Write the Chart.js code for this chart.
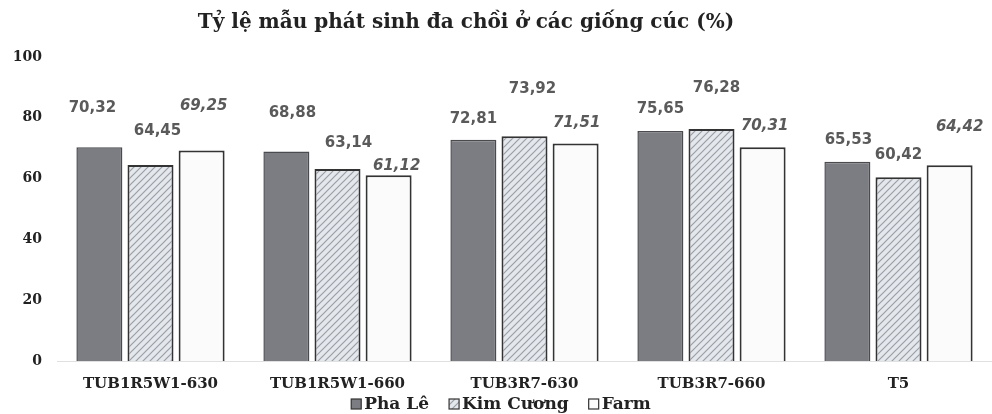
<!DOCTYPE html>
<html>
<head>
<meta charset="utf-8">
<script src="https://cdn.jsdelivr.net/npm/chart.js@4.4.1/dist/chart.umd.min.js"></script>
<style>
  html, body { margin: 0; padding: 0; background: #fff; }
  #wrap { width: 992px; height: 414px; }
</style>
</head>
<body>
<div id="wrap"><canvas id="chart"></canvas></div>
<script>
const categories = ["TUB1R5W1-630", "TUB1R5W1-660", "TUB3R7-630", "TUB3R7-660", "T5"];
const phaLe = [70.32, 68.88, 72.81, 75.65, 65.53];
const kimCuong = [64.45, 63.14, 73.92, 76.28, 60.42];
const farm = [69.25, 61.12, 71.51, 70.31, 64.42];
const yTicks = [0, 20, 40, 60, 80, 100];

// where each value label sits relative to the top of its bar: [dx, rise]
const labelShift = [
  [[-7, 39], [6, 38], [0, 21], [0, 22], [1, 22]],
  [[7, 34], [11, 26], [8, 47], [5, 41], [0, 22]],
  [[2, 44], [8, 9], [1, 21], [2, 21], [10, 38]]
];

const SERIF = "'DejaVu Serif', serif";
const SANS = "'DejaVu Sans', sans-serif";

// diagonal hatch for Kim Cương
function makeHatch() {
  const c = document.createElement("canvas");
  c.width = 7; c.height = 7;
  const g = c.getContext("2d");
  g.fillStyle = "#e4e7ec";
  g.fillRect(0, 0, 7, 7);
  g.strokeStyle = "#9a9ea6";
  g.lineWidth = 1.2;
  g.beginPath();
  g.moveTo(0, 7); g.lineTo(7, 0);
  g.moveTo(-1, 1); g.lineTo(1, -1);
  g.moveTo(6, 8); g.lineTo(8, 6);
  g.stroke();
  return g.createPattern(c, "repeat");
}
const hatch = makeHatch();

const fmt = v => v.toFixed(2).replace(".", ",");

const extras = {
  id: "extras",
  afterDatasetsDraw(chart) {
    const ctx = chart.ctx;
    ctx.save();
    ctx.textAlign = "center";
    ctx.textBaseline = "middle";
    ctx.fillStyle = "#5a5a5a";
    chart.data.datasets.forEach((ds, i) => {
      ctx.font = (i === 2 ? "italic " : "") + "bold 15px " + SANS;
      chart.getDatasetMeta(i).data.forEach((bar, j) => {
        const [dx, rise] = labelShift[i][j];
        ctx.fillText(fmt(ds.data[j]), bar.x + dx, bar.y - rise);
      });
    });
    ctx.restore();
  },
  afterDraw(chart) {
    const ctx = chart.ctx;
    ctx.save();
    // title
    ctx.fillStyle = "#222";
    ctx.font = "bold 20px " + SERIF;
    ctx.textAlign = "center";
    ctx.textBaseline = "middle";
    ctx.fillText("Tỷ lệ mẫu phát sinh đa chồi ở các giống cúc (%)", 466, 23);

    // legend along the bottom
    ctx.font = "bold 17px " + SERIF;
    ctx.textAlign = "left";
    const box = 10, gapText = 3, gapItem = 20;
    const items = chart.data.datasets.map(ds => ({
      ds, w: box + gapText + ctx.measureText(ds.label).width
    }));
    const total = items.reduce((s, it) => s + it.w, 0) + gapItem * (items.length - 1);
    let x = 501 - total / 2;
    const y = 404;
    items.forEach(it => {
      ctx.fillStyle = it.ds.backgroundColor;
      ctx.fillRect(x, y - box / 2, box, box);
      ctx.strokeStyle = "#333";
      ctx.lineWidth = 1.2;
      ctx.strokeRect(x, y - box / 2, box, box);
      ctx.fillStyle = "#222";
      ctx.fillText(it.ds.label, x + box + gapText, y + 1);
      x += it.w + gapItem;
    });
    ctx.restore();
  }
};

new Chart(document.getElementById("chart"), {
  type: "bar",
  data: {
    labels: categories,
    datasets: [
      { label: "Pha Lê", data: phaLe, backgroundColor: "#7c7d82", borderColor: "#4a4b4f", borderWidth: 1.5 },
      { label: "Kim Cương", data: kimCuong, backgroundColor: hatch, borderColor: "#333", borderWidth: 2 },
      { label: "Farm", data: farm, backgroundColor: "#fbfbfb", borderColor: "#333", borderWidth: 2 }
    ]
  },
  options: {
    responsive: true,
    maintainAspectRatio: false,
    animation: false,
    events: [],
    layout: { padding: { top: 57, left: 0, right: 0, bottom: 0 } },
    categoryPercentage: 0.82,
    barPercentage: 0.9,
    plugins: {
      legend: { display: false },
      title: { display: false },
      tooltip: { enabled: false }
    },
    scales: {
      x: {
        grid: { display: false, drawTicks: false },
        border: { display: true, color: "rgba(0,0,0,0.12)", width: 1 },
        ticks: { color: "#222", font: { family: SERIF, size: 15, weight: "bold" }, padding: 14 },
        afterFit(s) { s.height = 53; }
      },
      y: {
        min: 0,
        max: 100,
        grid: { display: false, drawTicks: false },
        border: { display: false },
        afterBuildTicks(s) { s.ticks = yTicks.map(v => ({ value: v })); },
        ticks: { color: "#222", font: { family: SERIF, size: 14, weight: "bold" }, padding: 15 },
        afterFit(s) { s.width = 57; }
      }
    }
  },
  plugins: [extras]
});
</script>
</body>
</html>
